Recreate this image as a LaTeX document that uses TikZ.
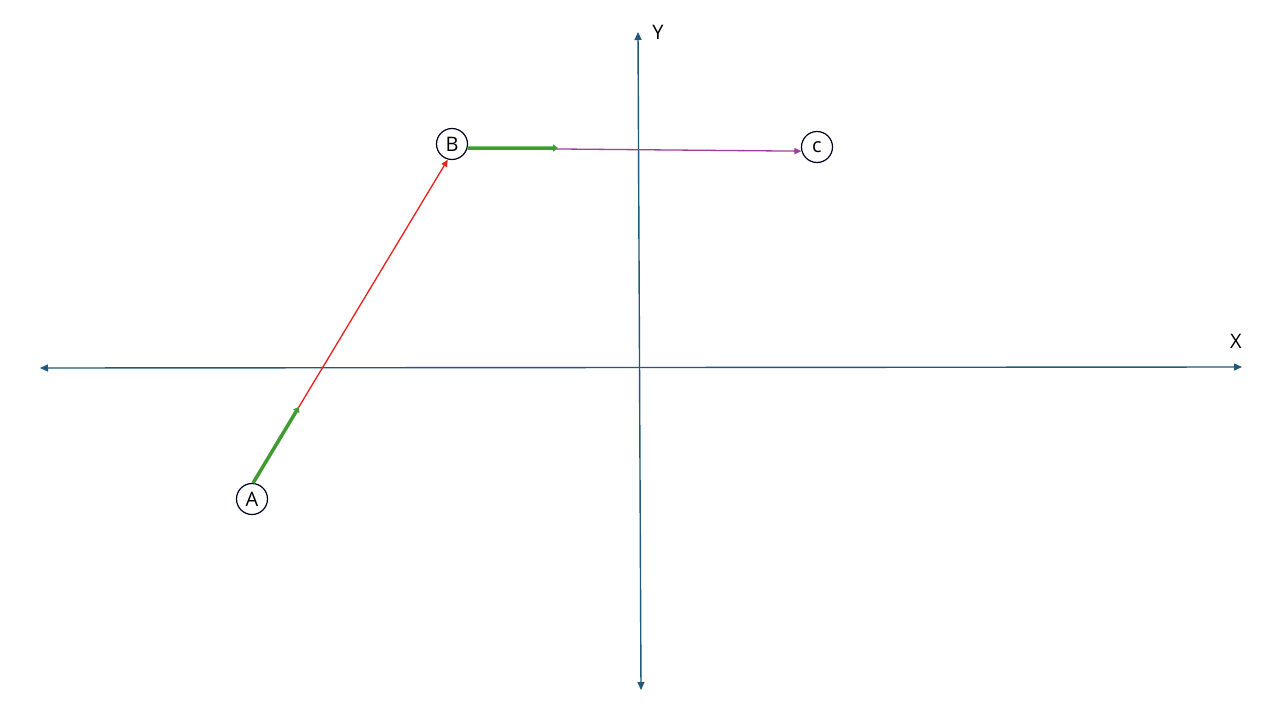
\documentclass[tikz,border=0pt]{standalone}
\usepackage{fontspec}
\setmainfont{Open Sans}
\usetikzlibrary{arrows.meta,calc}
\definecolor{axisc}{RGB}{31,90,122}
\definecolor{greenc}{RGB}{64,156,48}
\definecolor{purplec}{RGB}{160,60,160}
\definecolor{redc}{RGB}{235,30,30}
\tikzset{
  pt/.style={circle,draw=black!85!blue,line width=1.2pt,minimum size=31pt,inner sep=0pt,font=\fontsize{20}{20}\selectfont},
  axis/.style={draw=axisc,line width=1.4pt,{Triangle[length=8pt,width=7pt]}-{Triangle[length=8pt,width=7pt]}},
  lbl/.style={font=\fontsize{20}{20}\selectfont},
  redarr/.style={draw=redc,line width=1.3pt,-{Triangle[length=7pt,width=6pt]}},
  greenarr/.style={draw=greenc,line width=3.5pt,-{Triangle[length=5pt,width=7pt]}},
  purparr/.style={draw=purplec,line width=1.3pt,-{Triangle[length=7pt,width=6pt]}},
}
\begin{document}
\begin{tikzpicture}[x=1pt,y=-1pt]
\useasboundingbox (0,0) rectangle (1280,720);
\fill[white] (0,0) rectangle (1280,720);
\coordinate (xl) at (40,368);
\coordinate (xr) at (1242,367);
\coordinate (yt) at (638,32);
\coordinate (yb) at (641,690);
\draw[axis] (xl) -- (xr);
\draw[axis] (yb) -- (yt);
\node[lbl] (xlab) at (1236,341) {X};
\node[lbl] (ylab) at (658,32) {Y};
\node[pt] (A) at (252,499) {A};
\node[pt] (B) at (452,144) {B};
\node[pt] (C) at (817,147) {c};
\coordinate (g1) at ($(A.86)!0.235!(B.-105)$);
\coordinate (g2) at (558,148);
\draw[redarr] (A.86) -- (B.-105);
\draw[greenarr] (A.86) -- (g1);
\draw[purparr] (B.-15) -- (C.195);
\draw[greenarr] (B.-15) -- (g2);
\end{tikzpicture}
\end{document}
